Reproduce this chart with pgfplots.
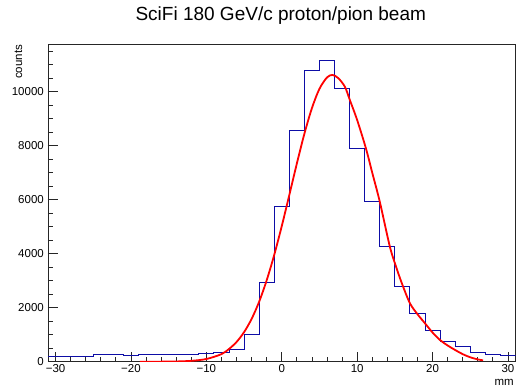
\documentclass[border=0pt]{standalone}
\usepackage{fontspec}
\setmainfont{Liberation Sans}
\usepackage{pgfplots}
\pgfplotsset{compat=1.18}
\definecolor{histblue}{rgb}{0.05,0.05,0.65}
\begin{document}
\begin{tikzpicture}
\begin{axis}[
  width=467.5pt, height=317pt, scale only axis,
  xmin=-31, xmax=31, ymin=0, ymax=11740,
  scaled y ticks=false, scaled x ticks=false,
  axis line style={line width=0.8pt, black!85},
  tick align=inside, xtick pos=bottom, ytick pos=left,
  xtick={-30,-20,-10,0,10,20,30},
  xticklabels={−30,−20,−10,0,10,20,30},
  minor xtick={-28,-26,-24,-22,-18,-16,-14,-12,-8,-6,-4,-2,2,4,6,8,12,14,16,18,22,24,26,28},
  ytick={0,2000,4000,6000,8000,10000},
  yticklabels={0,2000,4000,6000,8000,10000},
  minor ytick={500,1000,...,11500},
  major tick length=10pt, minor tick length=5pt,
  tick style={black!85, line width=0.8pt},
  ticklabel style={font=\fontsize{11.5}{13}\selectfont},
  yticklabel style={anchor=east, inner sep=0pt, xshift=-4pt},
  xticklabel style={anchor=north, inner sep=0pt, yshift=-3pt},
  title={SciFi 180 GeV/c proton/pion beam},
  title style={font=\fontsize{19}{22}\selectfont, at={(rel axis cs:0.5,1)}, anchor=base, yshift=18pt, xshift=-1pt, inner sep=0pt},
  xlabel={mm}, ylabel={counts},
  every axis x label/.style={at={(rel axis cs:1,0)}, anchor=base east, yshift=-23.5pt, xshift=-1.5pt, inner sep=0pt, font=\fontsize{11.5}{13}\selectfont},
  every axis y label/.style={at={(rel axis cs:-0.0556,1)}, rotate=90, anchor=base east, inner sep=0pt, font=\fontsize{11.5}{13}\selectfont},
]
\coordinate (sw) at (rel axis cs:0,0);
\addplot[const plot mark left, histblue, line width=0.9pt] table {
x y
-31 210
-29 210
-27 210
-25 265
-23 265
-21 215
-19 255
-17 255
-15 255
-13 255
-11 296
-9 346
-7 460
-5 1000
-3 2940
-1 5767
1 8556
3 10804
5 11174
7 10126
9 7904
11 5941
13 4259
15 2804
17 1793
19 1155
21 735
23 575
25 333
27 274
29 242
31 242
};
\addplot[red, line width=1.8pt, smooth] coordinates {
(-18.8,0) (-16,2) (-14,9) (-12,32) (-10,100) (-8,280) (-7,470) (-6,729) (-5,1093) (-4,1583) (-3,2220) (-2,3013) (-1,3953) (0,5020) (1,6170) (2,7336) (3,8440) (4,9390) (5,10107) (6,10527) (6.73,10620) (7.5,10500) (8.37,10185) (9.03,9693) (10,8950) (11.16,7904) (12,7000) (13,5926) (14.34,4259) (15.23,3460) (16,2850) (17,2163) (18,1760) (19,1420) (20,1080) (21,800) (22,600) (23,433) (24,280) (25,163) (26,85) (26.7,50)
};
\end{axis}
\pgfresetboundingbox
\path ([xshift=-48pt,yshift=-27.3pt]sw) rectangle ([xshift=468pt,yshift=361.7pt]sw);
\end{tikzpicture}
\end{document}
